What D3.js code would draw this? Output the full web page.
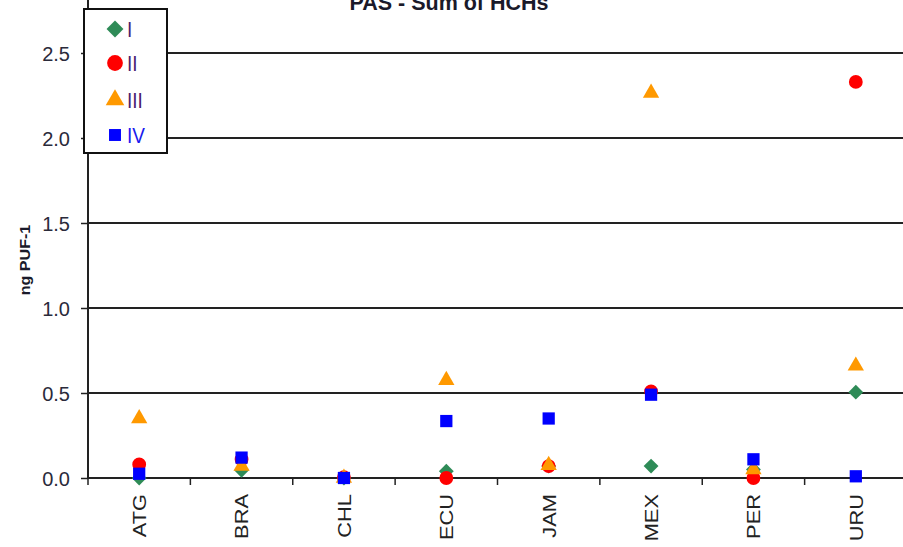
<!DOCTYPE html>
<html>
<head>
<meta charset="utf-8">
<script src="https://cdn.jsdelivr.net/npm/d3@7"></script>
<style>
  body { margin: 0; background: #fff; }
  text { font-family: "Liberation Sans", Arial, sans-serif; }
</style>
</head>
<body>
<div id="chart"></div>
<script>
// countries on the x axis
var sites = ["ATG", "BRA", "CHL", "ECU", "JAM", "MEX", "PER", "URU"]
var seriesNames = ["I", "II", "III", "IV"]

// ng PUF-1 per site
var valuesI   = [0.00, 0.045, 0.00, 0.04, 0.07, 0.07, 0.05, 0.505]
var valuesII  = [0.08, 0.11, 0.005, 0.00, 0.07, 0.51, 0.00, 2.33]
var valuesIII = [0.35, 0.07, 0.00, 0.575, 0.075, 2.265, 0.05, 0.66]
var valuesIV  = [0.025, 0.12, 0.00, 0.335, 0.35, 0.49, 0.11, 0.01]

var yTicks = [0.0, 0.5, 1.0, 1.5, 2.0, 2.5]

var outerWidth = 903,
    outerHeight = 547,
    plotLeft = 88,
    plotBottom = 478,
    plotRight = 907,
    plotTop = -32;

var svg = d3.select("#chart").append("svg")
    .attr("width", outerWidth)
    .attr("height", outerHeight);

var xScale = d3.scaleBand()
    .domain(sites)
    .range([plotLeft, plotRight]);

var yScale = d3.scaleLinear()
    .domain([0, 3])
    .range([plotBottom, plotTop]);

// gridlines
svg.selectAll("line.grid")
    .data(yTicks.slice(1))
    .enter().append("line")
    .attr("class", "grid")
    .attr("x1", plotLeft)
    .attr("x2", plotRight)
    .attr("y1", function(d) { return yScale(d); })
    .attr("y2", function(d) { return yScale(d); })
    .attr("stroke", "#222")
    .attr("stroke-width", 2);

// y axis
var yAxis = d3.axisLeft(yScale)
    .tickValues(yTicks)
    .tickSize(7)
    .tickPadding(11)
    .tickFormat(d3.format(".1f"));

var gy = svg.append("g")
    .attr("transform", "translate(" + plotLeft + ",0)")
    .call(yAxis);
gy.select(".domain").remove();
gy.selectAll(".tick line").attr("stroke", "#222").attr("stroke-width", 1.5);
gy.selectAll(".tick text")
    .attr("font-size", "20px")
    .attr("fill", "#2a2a3a")
    .attr("font-family", "Liberation Sans, Arial, sans-serif")
    .attr("dy", "0.36em");

svg.append("line")
    .attr("x1", plotLeft).attr("x2", plotLeft)
    .attr("y1", 0).attr("y2", plotBottom + 1)
    .attr("stroke", "#222")
    .attr("stroke-width", 2);

// x axis
var xAxis = d3.axisBottom(xScale).tickSize(0);
var gx = svg.append("g")
    .attr("transform", "translate(0," + plotBottom + ")")
    .call(xAxis);
gx.select(".domain").remove();
gx.selectAll(".tick text")
    .attr("font-size", "19px")
    .attr("fill", "#222")
    .attr("font-family", "Liberation Sans, Arial, sans-serif")
    .attr("transform", "translate(0,16) rotate(-90) scale(1.15,1)")
    .attr("text-anchor", "end")
    .attr("x", 0)
    .attr("y", 0)
    .attr("dy", "0.36em");

svg.append("line")
    .attr("x1", plotLeft).attr("x2", plotRight)
    .attr("y1", plotBottom).attr("y2", plotBottom)
    .attr("stroke", "#222")
    .attr("stroke-width", 2);

// small tick marks between categories
svg.selectAll("line.xtick")
    .data(sites)
    .enter().append("line")
    .attr("class", "xtick")
    .attr("x1", function(d) { return xScale(d); })
    .attr("x2", function(d) { return xScale(d); })
    .attr("y1", plotBottom)
    .attr("y2", plotBottom + 7)
    .attr("stroke", "#222")
    .attr("stroke-width", 1.5);

// the four series
var series = [
  {name: "I", values: valuesI, color: "#2e8b57", symbol: d3.symbolSquare, size: 110, rotate: 45},
  {name: "II", values: valuesII, color: "#ff0000", symbol: d3.symbolCircle, size: 150, rotate: 0},
  {name: "III", values: valuesIII, color: "#ff9900", symbol: d3.symbolTriangle, size: 115, rotate: 0},
  {name: "IV", values: valuesIV, color: "#0000ff", symbol: d3.symbolSquare, size: 150, rotate: 0}
]

series.forEach(function(s) {
  svg.selectAll("path.s" + s.name)
      .data(s.values)
      .enter().append("path")
      .attr("class", "s" + s.name)
      .attr("d", d3.symbol().type(s.symbol).size(s.size))
      .attr("fill", s.color)
      .attr("transform", function(d, i) {
        var x = xScale(sites[i]) + xScale.bandwidth() / 2;
        return "translate(" + x + "," + yScale(d) + ") rotate(" + s.rotate + ")";
      });
});

// legend
var legend = svg.append("g");
legend.append("rect")
    .attr("x", 84).attr("y", 9)
    .attr("width", 83).attr("height", 144)
    .attr("fill", "#fff")
    .attr("stroke", "#111")
    .attr("stroke-width", 2);

var legendY = [29, 63, 100, 135]

var items = legend.selectAll("g.item")
    .data(series)
    .enter().append("g")
    .attr("class", "item")
    .attr("transform", function(d, i) { return "translate(115," + legendY[i] + ")"; });

items.append("path")
    .attr("d", function(d, i) { return d3.symbol().type(d.symbol).size(i == 3 ? d.size * 0.95 : d.size * 1.3)(); })
    .attr("fill", function(d) { return d.color; })
    .attr("transform", function(d) { return "rotate(" + d.rotate + ")"; });

items.append("text")
    .attr("x", 12)
    .attr("dy", "0.36em")
    .attr("font-size", "19px")
    .attr("fill", function(d, i) { return i == 3 ? "#1a1aee" : "#4a2070"; })
    .attr("transform", "scale(1,1.15)")
    .text(function(d) { return d.name; });

// title and axis label
svg.append("text")
    .attr("x", 449)
    .attr("y", 10)
    .attr("text-anchor", "middle")
    .attr("font-size", "21.5px")
    .attr("font-weight", "bold")
    .attr("fill", "#1a1a2a")
    .text("PAS - Sum of HCHs");

svg.append("text")
    .attr("transform", "translate(25,260) rotate(-90) scale(1.15,1)")
    .attr("text-anchor", "middle")
    .attr("dy", "0.36em")
    .attr("font-size", "14px")
    .attr("font-weight", "bold")
    .attr("fill", "#1a1a2a")
    .text("ng PUF-1");
</script>
</body>
</html>
